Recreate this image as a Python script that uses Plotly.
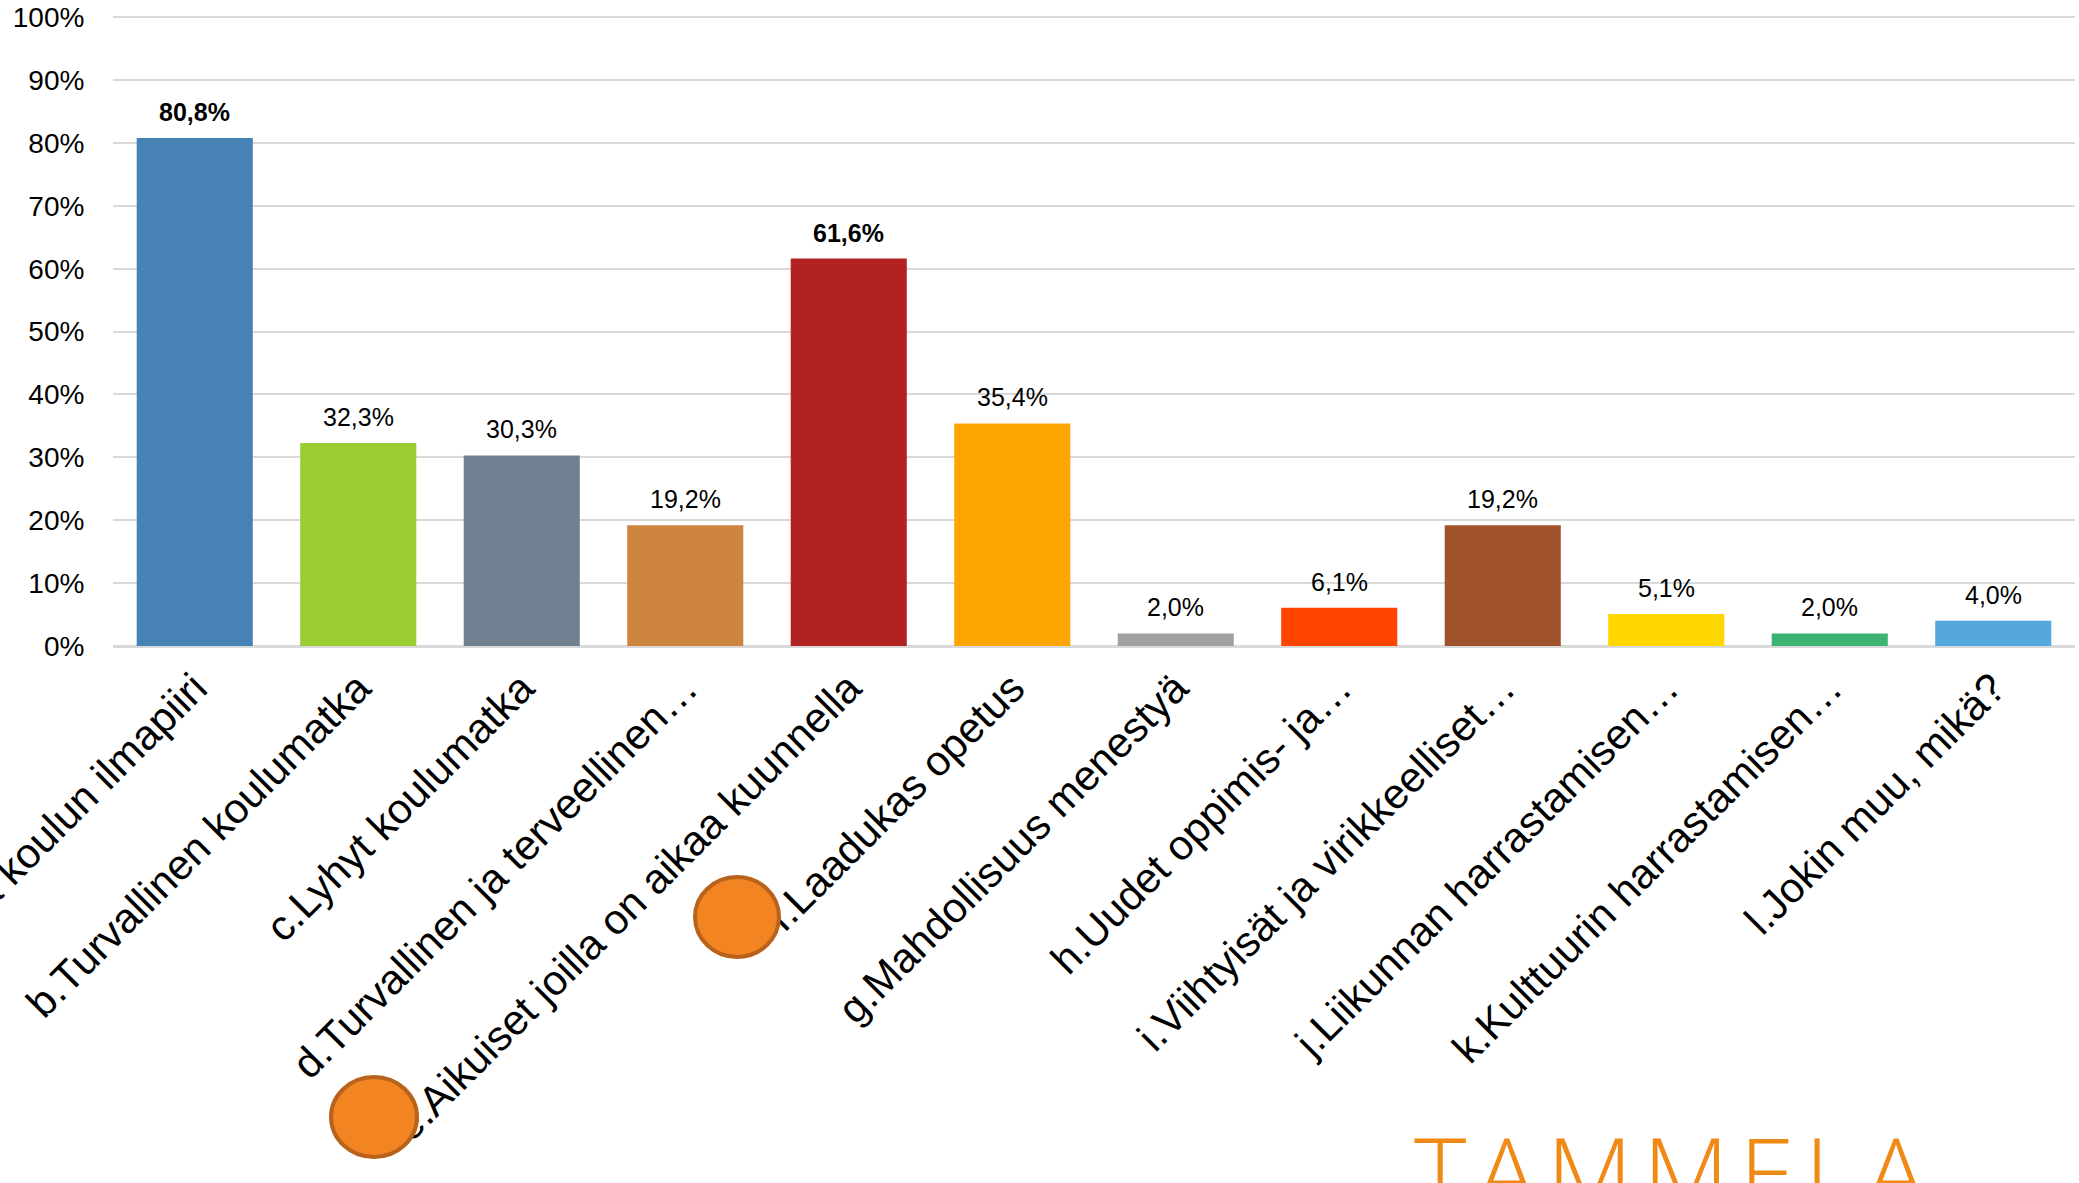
import plotly.graph_objects as go

categories = [
    "a.Hyvä koulun ilmapiiri",
    "b.Turvallinen koulumatka",
    "c.Lyhyt koulumatka",
    "d.Turvallinen ja terveellinen…",
    "e.Aikuiset joilla on aikaa kuunnella",
    "f.Laadukas opetus",
    "g.Mahdollisuus menestyä",
    "h.Uudet oppimis- ja…",
    "i.Viihtyisät ja virikkeelliset…",
    "j.Liikunnan harrastamisen…",
    "k.Kulttuurin harrastamisen…",
    "l.Jokin muu, mikä?",
]
values = [80.8, 32.3, 30.3, 19.2, 61.6, 35.4, 2.0, 6.1, 19.2, 5.1, 2.0, 4.0]
y_ticks = [0, 10, 20, 30, 40, 50, 60, 70, 80, 90, 100]
y_tick_labels = [f"{t}%" for t in y_ticks]

colors = ["#4682B4", "#9ACD32", "#708090", "#CD853F", "#B22222", "#FFA500",
          "#A0A0A0", "#FF4500", "#A0522D", "#FFD700", "#3CB371", "#55A8DD"]
bold = [True, False, False, False, True, False, False, False, False, False, False, False]

W, H = 2079, 1183
L, R, T, B = 113, 4, 14, 537
plot_w = W - L - R
plot_h = H - T - B
Y_MAX = 100.5


def px(x):
    return (x - L) / plot_w


def py(y):
    return (H - B - y) / plot_h


fig = go.Figure()
fig.add_trace(go.Bar(
    x=categories, y=values, marker=dict(color=colors, line=dict(width=0)),
    width=0.71, hoverinfo="skip",
))

for c, v, b in zip(categories, values, bold):
    txt = f"{v:.1f}".replace(".", ",") + "%"
    if b:
        txt = f"<b>{txt}</b>"
    fig.add_annotation(x=c, y=v, text=txt, showarrow=False, yanchor="bottom",
                       yshift=10, font=dict(family="Liberation Sans, Arial", size=25, color="#000000"))

# decorative orange circles
for cx, cy, rx, ry in [(737, 917, 42, 40), (374, 1117, 43, 40)]:
    fig.add_shape(type="circle", xref="paper", yref="paper",
                  x0=px(cx - rx), x1=px(cx + rx), y0=py(cy + ry), y1=py(cy - ry),
                  fillcolor="#F28522", line=dict(color="#B8621B", width=4), layer="above")

# logo text
fig.add_annotation(xref="paper", yref="paper", x=px(1412), y=py(1101),
                   xanchor="left", yanchor="top", showarrow=False,
                   text="T\u200AA\u200AM\u200AM\u200AE\u200AL\u200AA",
                   font=dict(family="Open Sans", size=100, color="#EF8A17", weight=300))

fig.update_layout(
    width=W, height=H,
    margin=dict(l=L, r=R, t=T, b=B, autoexpand=False),
    paper_bgcolor="white", plot_bgcolor="white",
    showlegend=False,
    bargap=0.29,
    font=dict(family="Liberation Sans, Arial", color="#000000"),
)
fig.update_xaxes(
    type="category", tickangle=-45, automargin=False,
    tickfont=dict(size=42, family="Liberation Sans, Arial", color="#000000"),
    showgrid=False, showline=False, ticks="", ticklabelstandoff=8,
)
fig.update_yaxes(
    range=[0, Y_MAX], tickvals=y_ticks, ticktext=y_tick_labels, automargin=False,
    tickfont=dict(size=28, family="Liberation Sans, Arial", color="#000000"),
    showgrid=True, gridcolor="#D9D9D9", gridwidth=2,
    zeroline=True, zerolinecolor="#D9D9D9", zerolinewidth=3,
    showline=False, ticks="outside", ticklen=22, tickcolor="rgba(0,0,0,0)",
)

fig.write_html("out.html", config={"displayModeBar": False},
               post_script="document.body.style.margin='0';document.body.style.overflow='hidden';")
